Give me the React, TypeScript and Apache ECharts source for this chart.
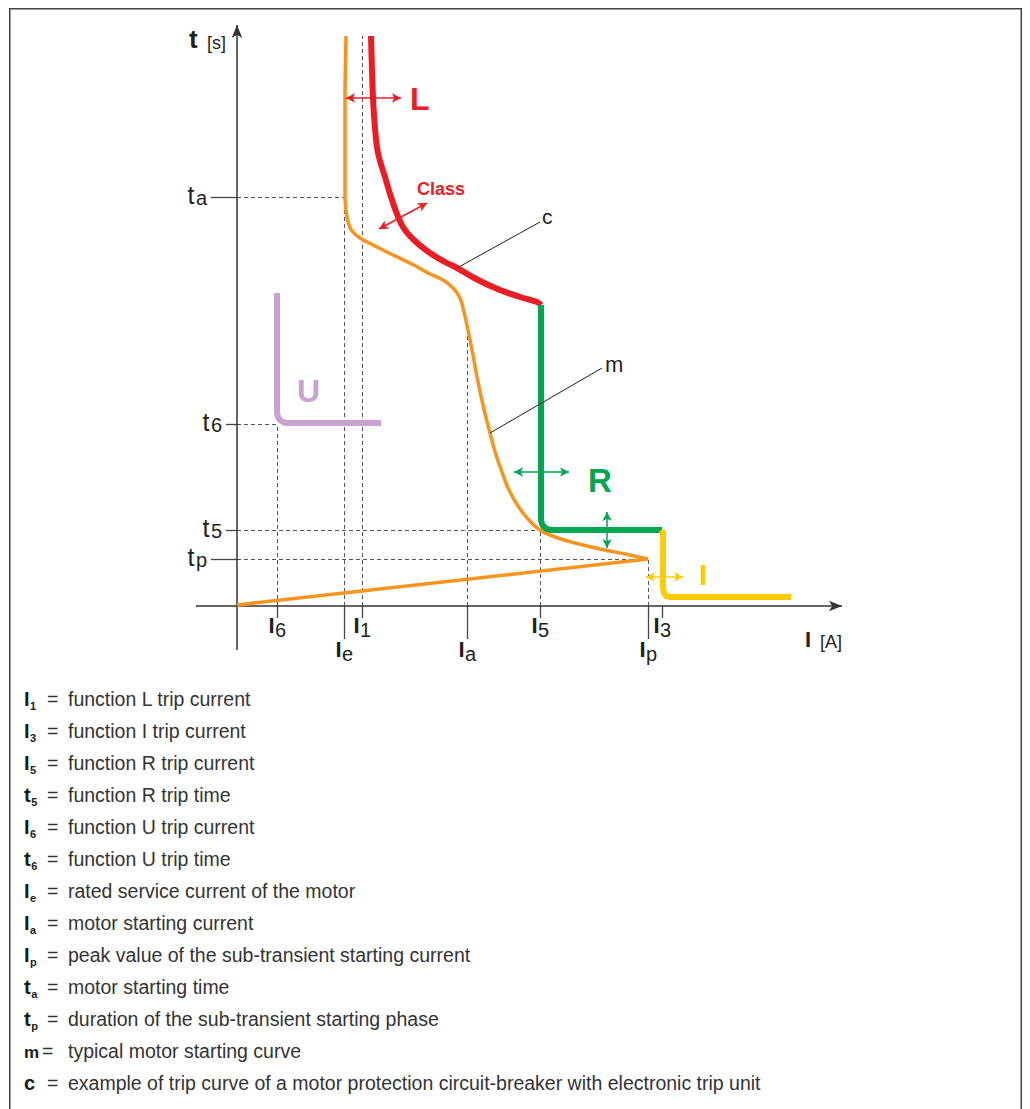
import React, { useEffect, useRef } from "react";
import * as echarts from "echarts";

const FONT = '"Liberation Sans", Arial, Helvetica, sans-serif';

// Schematic units: x = current I (from the origin), y = time t (above the I axis)
const xExtent = [-237, 793];
const yExtent = [-503, 606];

// trip curve c: L (red), R (green), I (yellow); U (purple); motor starting curve m (orange)
const curveL = [[134, 570], [135, 536], [136, 508], [138, 478], [141, 453], [148, 429], [156, 403], [166, 379], [178, 365], [193, 353], [208, 344], [220, 338], [241, 326], [263, 316], [283, 309], [300, 304], [304, 301]];
const curveR = [[304, 301], [304, 86], [305, 82], [307, 79], [310, 77], [314, 76], [425, 76]];
const curveI = [[425, 76], [426, 73], [426, 18], [427, 13], [429, 10], [433, 9], [554, 9]];
const curveU = [[40, 313], [40, 193], [41, 189], [43, 186], [46, 184], [50, 183], [144, 183]];
const curveMotor = [[109, 570], [108, 506], [108, 446], [108, 409], [109, 396], [111, 384], [115, 375], [123, 368], [138, 360], [156, 351], [175, 342], [191, 333], [206, 326], [216, 318], [223, 308], [227, 294], [231, 276], [236, 251], [240, 229], [246, 201], [253, 173], [259, 151], [265, 134], [271, 118], [281, 100], [291, 87], [303, 76], [318, 69], [338, 63], [363, 57], [388, 52], [411, 47]];
const curveMotorPeak = [[411, 47], [0, 1]];

// axis tick labels (I_x on the current axis, t_x on the time axis)
const xTickSubs = ["6", "e", "1", "a", "5", "p", "3"];
const xTickValues = [40, 107, 125, 230, 303, 411, 425];
const xTickLong = [false, true, false, true, false, true, false];
const xGuideTop = [182, 409, 570, 274, 76, 47, null];

const yTickSubs = ["a", "6", "5", "p"];
const yTickValues = [409, 182, 76, 47];
const yTickLong = [true, false, false, true];
const yGuideRight = [107, 40, 303, 411];

const legendSymbols = ["I", "I", "I", "t", "I", "t", "I", "I", "I", "t", "t", "m", "c"];
const legendSubs = ["1", "3", "5", "5", "6", "6", "e", "a", "p", "a", "p", "", ""];
const legendTexts = [
  "function L trip current",
  "function I trip current",
  "function R trip current",
  "function R trip time",
  "function U trip current",
  "function U trip time",
  "rated service current of the motor",
  "motor starting current",
  "peak value of the sub-transient starting current",
  "motor starting time",
  "duration of the sub-transient starting phase",
  "typical motor starting curve",
  "example of trip curve of a motor protection circuit-breaker with electronic trip unit",
];

const RED = "#ED1C24";
const GREEN = "#00A651";
const YELLOW = "#FFCB05";
const PURPLE = "#C9A2CF";
const ORANGE = "#F7941E";

export default function App() {
  const ref = useRef<HTMLDivElement>(null);
  useEffect(() => {
    document.body.style.margin = "0";
    const chart = echarts.init(ref.current!, null, { renderer: "svg" });

    const curve = (name: string, data: number[][], color: string, width: number, smooth: number) => ({
      type: "line", name, data, smooth, symbol: "none", showSymbol: false, silent: true, z: 3,
      lineStyle: { color, width, join: "round", cap: "butt" },
    });
    const segs = (name: string, lines: number[][][], color: string, width: number, type: any, symbol: string[], symbolSize: number[], z = 2) => ({
      type: "line", name, data: [], silent: true, z,
      markLine: {
        silent: true, symbol, symbolSize, animation: false, z,
        label: { show: false }, emphasis: { disabled: true },
        lineStyle: { color, width, type },
        data: lines.map(([a, b]) => [{ coord: a }, { coord: b }]),
      },
    });

    const dashed: number[][][] = [];
    const ticks: number[][][] = [];
    xTickValues.forEach((v, i) => {
      const top = xGuideTop[i];
      if (top !== null) dashed.push([[v, 0], [v, top]]);
      ticks.push([[v, 0], [v, xTickLong[i] ? -33 : -12]]);
    });
    yTickValues.forEach((v, i) => {
      dashed.push([[0, v], [yGuideRight[i], v]]);
      ticks.push([[yTickLong[i] ? -26 : -11, v], [0, v]]);
    });

    const option: any = {
      animation: false,
      grid: { left: 0, right: 0, top: 0, bottom: 0 },
      xAxis: { type: "value", min: xExtent[0], max: xExtent[1], show: false },
      yAxis: { type: "value", min: yExtent[0], max: yExtent[1], show: false },
      series: [
        segs("guides", dashed, "#555", 1, [4, 3], ["none", "none"], [0, 0], 1),
        segs("ticks", ticks, "#444", 1.3, "solid", ["none", "none"], [0, 0], 2),
        segs("axes", [[[0, -44], [0, 581]], [[-41, 0], [605, 0]]], "#333", 1.5, "solid", ["none", "arrow"], [8, 13], 2),
        curve("m", curveMotor, ORANGE, 3.5, 0.3),
        curve("m peak", curveMotorPeak, ORANGE, 3.5, 0),
        curve("U", curveU, PURPLE, 6, 0),
        curve("L", curveL, RED, 6, 0.4),
        curve("R", curveR, GREEN, 6, 0),
        curve("I", curveI, YELLOW, 6, 0),
        segs("L arrows", [[[109, 508], [164, 508]], [[142, 377], [190, 403]]], RED, 1.5, "solid", ["arrow", "arrow"], [7, 9], 4),
        segs("R arrows", [[[277, 134], [332, 134]], [[370, 94], [370, 58]]], GREEN, 1.5, "solid", ["arrow", "arrow"], [7, 9], 4),
        segs("I arrows", [[[409, 29], [446, 29]]], YELLOW, 1.5, "solid", ["arrow", "arrow"], [7, 9], 4),
        segs("leaders", [[[220, 338], [303, 384]], [[253, 173], [365, 238]]], "#222", 1, "solid", ["none", "none"], [0, 0], 4),
      ],
    };
    chart.setOption(option);

    const P = (x: number, y: number) => chart.convertToPixel({ gridIndex: 0 } as any, [x, y]) as unknown as number[];
    const g: any[] = [];
    const T = (px: number, base: number, text: string, size: number, o: { bold?: boolean; color?: string; align?: string } = {}) =>
      g.push({
        type: "text", x: px, y: base - 0.3465 * size, silent: true, z: 10,
        style: {
          text, fontSize: size, fontFamily: FONT, fontWeight: o.bold ? "bold" : "normal",
          fill: o.color ?? "#231f20", align: o.align ?? "left", verticalAlign: "middle",
        },
      });
    const TU = (x: number, y: number, text: string, size: number, o: any = {}) => {
      const [px, py] = P(x, y);
      T(px, py, text, size, o);
    };

    // frame
    g.push({ type: "rect", silent: true, z: 0, shape: { x: 9.75, y: 8.75, width: 1011.5, height: 1200 }, style: { fill: "none", stroke: "#444", lineWidth: 1.5 } });

    // axis titles
    TU(-48, 558, "t", 26, { bold: true });
    TU(-30, 557, "[s]", 18);
    TU(568, -41, "I", 22, { bold: true });
    TU(583, -42, "[A]", 18);

    // tick labels
    xTickValues.forEach((v, i) => {
      const [px, py] = P(v, 0);
      const base = py + (xTickLong[i] ? 51 : 27);
      T(px - 2.5, base, "I", 22, { bold: true, align: "right" });
      T(px - 2, base + 4, xTickSubs[i], 20);
    });
    yTickValues.forEach((v, i) => {
      const [px, py] = P(0, v);
      const subRight = px - (yTickLong[i] ? 26 : 11) - 4;
      T(subRight, py + 8, yTickSubs[i], 20, { align: "right" });
      T(subRight - 12.5, py + 6.5, "t", 25, { align: "right" });
    });

    // curve annotations
    TU(173, 496, "L", 32, { bold: true, color: RED });
    TU(180, 411, "Class", 18, { bold: true, color: RED });
    TU(351, 114, "R", 33, { bold: true, color: GREEN });
    TU(462, 21, "I", 30, { bold: true, color: YELLOW });
    TU(60, 204, "U", 32, { bold: true, color: PURPLE });
    TU(305, 382, "c", 21);
    TU(368, 234, "m", 22);

    // legend
    legendTexts.forEach((s, i) => {
      const base = 706 + 32 * i;
      const sym = legendSymbols[i];
      T(24, base, sym, sym === "m" ? 17 : 20, { bold: true, color: "#1a1a1a" });
      if (legendSubs[i]) T(24 + (sym === "I" ? 5.6 : 6.7) + 0.5, base + 4, legendSubs[i], 11, { bold: true, color: "#1a1a1a" });
      T(sym === "m" ? 42 : 47, base, "=", 19.5, { color: "#333" });
      T(68, base, s, 19.5, { color: "#333" });
    });

    chart.setOption({ graphic: { elements: g } });
    return () => chart.dispose();
  }, []);
  return <div ref={ref} style={{ position: "absolute", left: 0, top: 0, width: 1030, height: 1109 }} />;
}
